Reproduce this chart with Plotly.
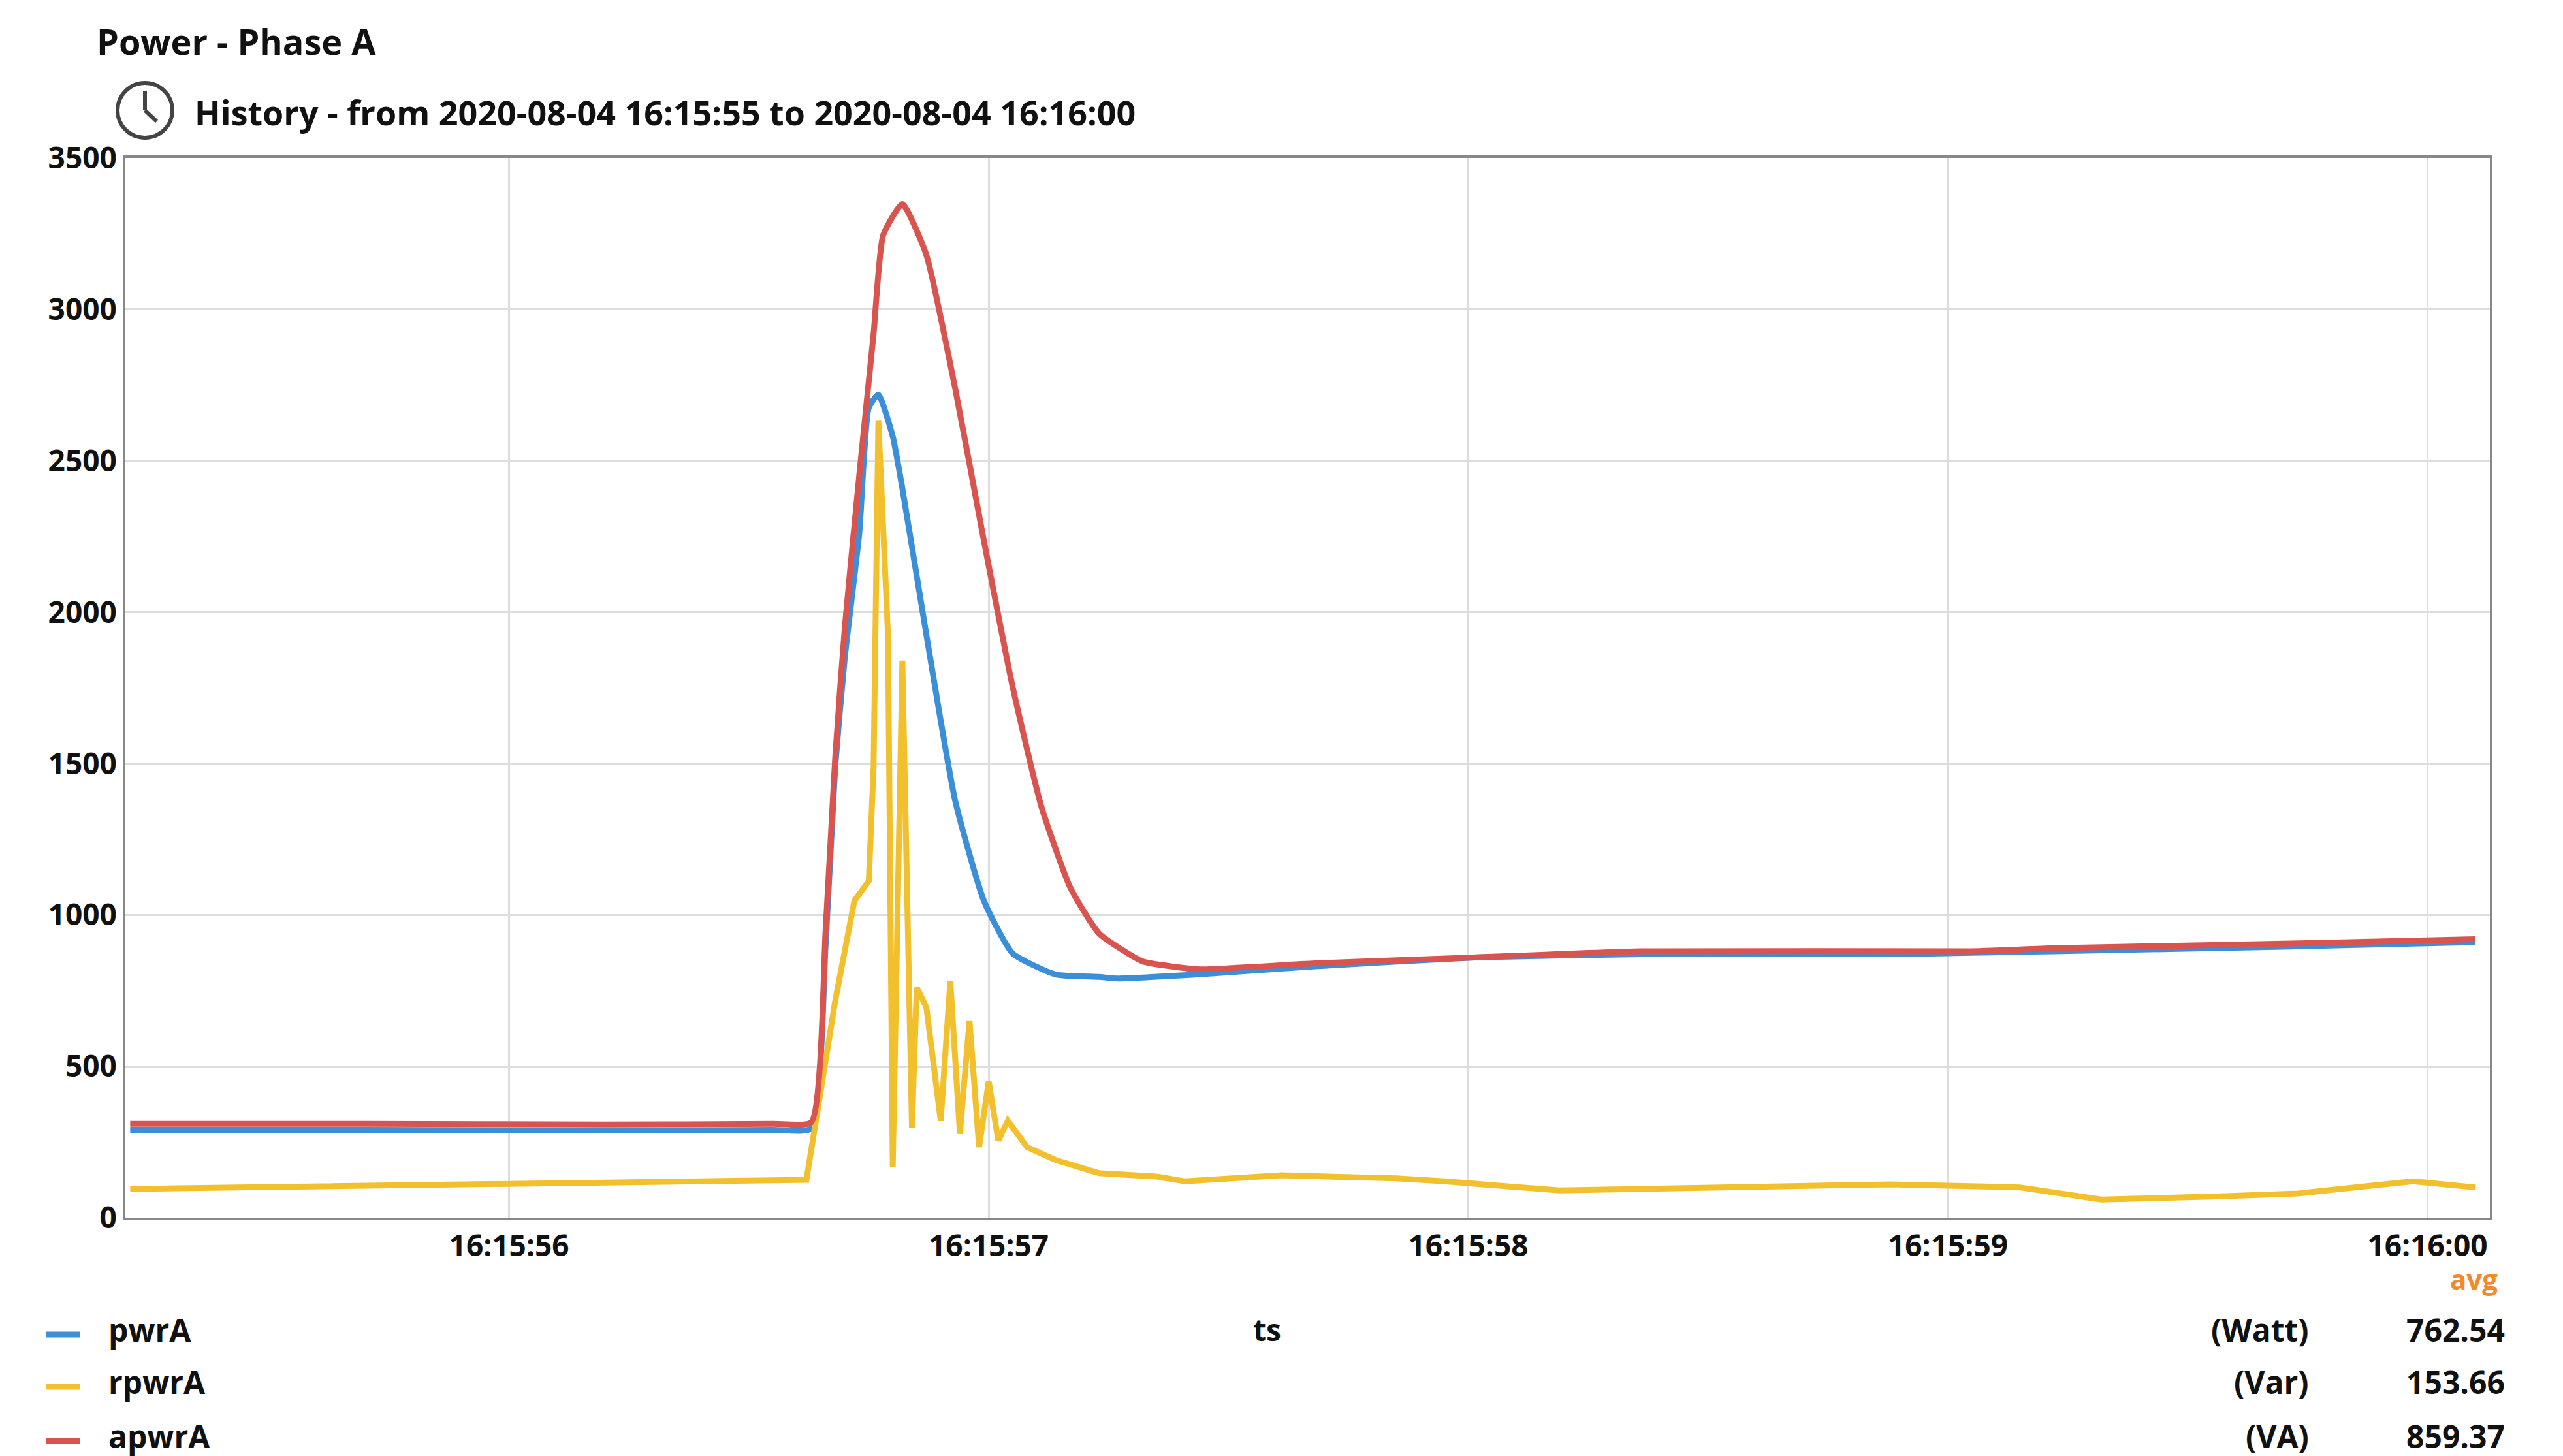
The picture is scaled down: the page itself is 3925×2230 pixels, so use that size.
import plotly.graph_objects as go

# seconds after 16:15:55
t_p = [0.21, 0.7, 1.2, 1.55, 1.63, 1.66, 1.68, 1.70, 1.73, 1.75, 1.77, 1.80, 1.82, 1.87, 1.93, 1.99, 2.05, 2.14, 2.23, 2.27, 2.45, 2.68, 3.02, 3.36, 3.88, 4.05, 4.22, 4.7, 5.10]
pwrA = [290, 290, 288, 290, 295, 900, 1487, 1850, 2257, 2675, 2719, 2580, 2409, 1926, 1378, 1047, 873, 803, 795, 790, 805, 830, 860, 870, 870, 875, 880, 895, 910]

t_a = [0.21, 0.7, 1.2, 1.55, 1.63, 1.66, 1.68, 1.70, 1.73, 1.76, 1.78, 1.82, 1.87, 1.93, 1.99, 2.05, 2.11, 2.17, 2.23, 2.32, 2.39, 2.44, 2.68, 3.02, 3.36, 4.05, 4.22, 4.7, 5.10]
apwrA = [310, 310, 308, 310, 315, 950, 1520, 1950, 2450, 2919, 3245, 3348, 3180, 2740, 2236, 1753, 1357, 1091, 939, 847, 828, 820, 840, 860, 880, 880, 890, 905, 920]

t_r = [0.21, 1.62, 1.68, 1.72, 1.75, 1.76, 1.77, 1.79, 1.80, 1.82, 1.84, 1.85, 1.87, 1.90, 1.92, 1.94, 1.96, 1.98, 2.00, 2.02, 2.04,
       2.08, 2.14, 2.23, 2.35, 2.41, 2.61, 2.85, 2.95, 3.19, 3.36, 3.53, 3.88, 4.15, 4.32, 4.56, 4.73, 4.97, 5.10]
rpwrA = [95, 125, 716, 1047, 1112, 1487, 2632, 1926, 168, 1840, 298, 760, 695, 320, 781, 277, 651, 233, 450, 255, 320,
         233, 190, 147, 136, 120, 140, 130, 120, 90, 95, 100, 110, 100, 60, 70, 80, 120, 100]

tick_vals = [1, 2, 3, 4, 5]
tick_text = ["16:15:56", "16:15:57", "16:15:58", "16:15:59", "16:16:00"]
y_ticks = [0, 500, 1000, 1500, 2000, 2500, 3000, 3500]

legend_names = ["pwrA", "rpwrA", "apwrA"]
legend_units = ["(Watt)", "(Var)", "(VA)"]
legend_avg = ["762.54", "153.66", "859.37"]
colors = ["#3b8fd8", "#f2c02c", "#d9534f"]

FONT = "Open Sans"
fig = go.Figure()
fig.add_trace(go.Scatter(x=t_p, y=pwrA, mode="lines", line=dict(color=colors[0], width=9, shape="spline", smoothing=0.5)))
fig.add_trace(go.Scatter(x=t_r, y=rpwrA, mode="lines", line=dict(color=colors[1], width=9)))
fig.add_trace(go.Scatter(x=t_a, y=apwrA, mode="lines", line=dict(color=colors[2], width=9, shape="spline", smoothing=0.5)))

W, H = 3925, 2230
L, R, T, B = 184, 3805, 234, 1857
def px(X): return (X - L) / (R - L)
def py(Y): return (B - Y) / (B - T)

fig.update_layout(
    width=W, height=H, showlegend=False, plot_bgcolor="white", paper_bgcolor="white",
    margin=dict(l=L, r=W - R, t=T, b=H - B),
    font=dict(family=FONT, size=44, color="#111"),
    xaxis=dict(range=[0.2, 5.13], tickvals=tick_vals, ticktext=tick_text, showgrid=True, gridcolor="#dddddd", gridwidth=3,
               showline=True, linecolor="#888", linewidth=4, mirror=True, ticks="", zeroline=False,
               tickfont=dict(family=FONT, size=46, color="#111", weight="bold")),
    yaxis=dict(range=[0, 3500], tickvals=y_ticks, showgrid=True, gridcolor="#dddddd", gridwidth=3,
               showline=True, linecolor="#888", linewidth=4, mirror=True, ticks="", zeroline=False,
               tickfont=dict(family=FONT, size=46, color="#111", weight="bold")),
)

ann = [
    dict(x=px(138), y=py(55), text="<b>Power - Phase A</b>", xanchor="left", yanchor="middle", font=dict(size=54)),
    dict(x=px(288), y=py(163), text="<b>History - from 2020-08-04 16:15:55 to 2020-08-04 16:16:00</b>", xanchor="left", yanchor="middle", font=dict(size=52)),
    dict(x=px(3780), y=py(1950), text="<b>avg</b>", xanchor="center", yanchor="middle", font=dict(size=42, color="#f08a2c")),
    dict(x=px(1932), y=py(2028), text="<b>ts</b>", xanchor="center", yanchor="middle", font=dict(size=46)),
]
shapes = [
    dict(type="circle", xref="paper", yref="paper", x0=px(172), x1=px(256), y0=py(119), y1=py(203), line=dict(color="#444", width=6)),
    dict(type="line", xref="paper", yref="paper", x0=px(214), x1=px(214), y0=py(161), y1=py(132), line=dict(color="#444", width=6)),
    dict(type="line", xref="paper", yref="paper", x0=px(214), x1=px(232), y0=py(161), y1=py(178), line=dict(color="#444", width=6)),
]
rows = [2028, 2108, 2191]
for i, Y in enumerate(rows):
    ann.append(dict(x=px(156), y=py(Y), text="<b>%s</b>" % legend_names[i], xanchor="left", yanchor="middle", font=dict(size=48)))
    ann.append(dict(x=px(3530), y=py(Y), text="<b>%s</b>" % legend_units[i], xanchor="right", yanchor="middle", font=dict(size=48)))
    ann.append(dict(x=px(3830), y=py(Y), text="<b>%s</b>" % legend_avg[i], xanchor="right", yanchor="middle", font=dict(size=48)))
    shapes.append(dict(type="line", xref="paper", yref="paper", x0=px(63), x1=px(115), y0=py(Y + 8), y1=py(Y + 8), line=dict(color=colors[i], width=9)))
for a in ann:
    a.update(xref="paper", yref="paper", showarrow=False)
fig.update_layout(annotations=ann, shapes=shapes)
fig.write_html("out.html")
